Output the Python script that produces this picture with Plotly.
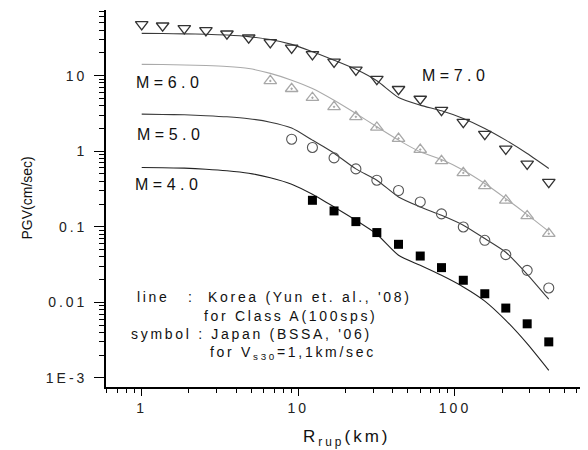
import plotly.graph_objects as go

# Distances (km)
dist = [1.0, 1.36, 1.87, 2.57, 3.50, 4.82, 6.62, 9.06, 12.3, 16.9, 23.3, 31.7,
        43.6, 60.0, 82.0, 113, 155, 211, 289, 397]

# Korea (Yun et al., '08) model lines
korea_m7 = [36.2, 36.0, 35.7, 35.3, 34.4, 32.8, 30.0, 25.9, 20.7, 16.0, 12.1, 8.53,
            5.14, 4.07, 3.42, 2.71, 2.0, 1.40, 0.93, 0.59]
korea_m6 = [14.1, 14.0, 13.8, 13.6, 13.2, 12.4, 10.7, 8.7, 6.76, 4.73, 3.16, 2.10,
            1.40, 0.98, 0.776, 0.56, 0.373, 0.236, 0.145, 0.087]
korea_m5 = [3.09, 3.06, 3.03, 2.95, 2.85, 2.69, 2.42, 2.02, 1.40, 0.94, 0.583, 0.413,
            0.248, 0.183, 0.142, 0.105, 0.0698, 0.046, 0.0235, 0.011]
korea_m4 = [0.608, 0.604, 0.596, 0.578, 0.552, 0.511, 0.446, 0.366, 0.269, 0.183, 0.122,
            0.0796, 0.042, 0.0309, 0.0228, 0.016, 0.0104, 0.00578, 0.00284, 0.00126]

# Japan (BSSA, '06) symbols
dist_m7 = dist
japan_m7 = [47.7, 45.7, 42.2, 39.7, 35.8, 31.7, 27.5, 23.3, 19.1, 15.2, 11.9, 9.0,
            6.6, 4.9, 3.49, 2.42, 1.68, 1.07, 0.68, 0.39]
dist_m6 = dist[6:]
japan_m6 = [8.5, 6.7, 5.1, 3.86, 2.85, 2.06, 1.47, 1.05, 0.745, 0.516, 0.347, 0.224,
            0.139, 0.081]
dist_m5 = dist[7:]
japan_m5 = [1.44, 1.12, 0.815, 0.583, 0.413, 0.302, 0.213, 0.148, 0.0994, 0.0662,
            0.0428, 0.0265, 0.0155]
dist_m4 = dist[8:]
japan_m4 = [0.224, 0.162, 0.117, 0.0838, 0.0586, 0.041, 0.0288, 0.0196, 0.013,
            0.0084, 0.0052, 0.0030]

x_tickvals = [1, 10, 100]
x_ticktext = ["1", "10", "100"]
y_tickvals = [0.001, 0.01, 0.1, 1, 10]
y_ticktext = ["1E-3", "0.01", "0.1", "1", "10"]

FONT = "Liberation Sans, Arial, sans-serif"


def ls(t, px):
    return f'<span style="letter-spacing:{px}px">{t}</span>'


fig = go.Figure()
line_specs = [(korea_m7, "#3a3a3a"), (korea_m6, "#aaaaaa"),
              (korea_m5, "#3a3a3a"), (korea_m4, "#222222")]
for ys, col in line_specs:
    fig.add_trace(go.Scatter(x=dist, y=ys, mode="lines",
                             line=dict(color=col, width=1.1, shape="spline", smoothing=0.6),
                             showlegend=False, hoverinfo="skip"))

fig.add_trace(go.Scatter(x=dist_m7, y=japan_m7, mode="markers",
                         marker=dict(symbol="triangle-down-open", size=11,
                                     color="#333333", line=dict(width=1.3, color="#333333")),
                         showlegend=False))
fig.add_trace(go.Scatter(x=dist_m6, y=japan_m6, mode="markers",
                         marker=dict(symbol="triangle-up-open-dot", size=11,
                                     color="#a8a8a8", line=dict(width=1.3, color="#a8a8a8")),
                         showlegend=False))
fig.add_trace(go.Scatter(x=dist_m5, y=japan_m5, mode="markers",
                         marker=dict(symbol="circle-open", size=10,
                                     color="#555555", line=dict(width=1.1, color="#555555")),
                         showlegend=False))
fig.add_trace(go.Scatter(x=dist_m4, y=japan_m4, mode="markers",
                         marker=dict(symbol="square", size=9, color="#000000",
                                     line=dict(width=0)),
                         showlegend=False))

minor_x = [m * 10 ** e for e in range(-1, 3) for m in range(2, 10)]
minor_y = [m * 10 ** e for e in range(-3, 2) for m in range(2, 10)]

fig.update_xaxes(type="log", range=[-0.228, 2.83], showline=True, linecolor="black",
                 linewidth=1.6, showgrid=False, zeroline=False, ticks="outside",
                 automargin=False,
                 ticklen=7, tickwidth=1.4, tickcolor="black",
                 tickmode="array", tickvals=x_tickvals,
                 ticktext=[ls(t, 3) for t in x_ticktext],
                 tickfont=dict(family=FONT, size=14, color="#222"),
                 minor=dict(tickmode="array", tickvals=minor_x, ticks="outside",
                            ticklen=4, tickwidth=1.2, tickcolor="black"))
fig.update_yaxes(type="log", range=[-3.12, 1.868], showline=True, linecolor="black",
                 linewidth=1.6, showgrid=False, zeroline=False, ticks="outside",
                 automargin=False, ticklabelstandoff=4,
                 ticklen=10, tickwidth=1.4, tickcolor="black",
                 tickmode="array", tickvals=y_tickvals,
                 ticktext=[ls(t, 3) for t in y_ticktext],
                 tickfont=dict(family=FONT, size=14, color="#222"),
                 minor=dict(tickmode="array", tickvals=minor_y, ticks="outside",
                            ticklen=5, tickwidth=1.2, tickcolor="black"))

ann = []


def add(text, x, y, size, xanchor="left", yanchor="middle", angle=0):
    ann.append(dict(text=text, x=x, y=y, xref="paper", yref="paper", showarrow=False,
                    xanchor=xanchor, yanchor=yanchor, textangle=angle,
                    font=dict(family=FONT, size=size, color="#111")))


add(ls("M=7.0", 4.5), 0.6555, 0.826, 16)
add(ls("M=6.0", 4.5), 0.059, 0.807, 16)
add(ls("M=5.0", 4.5), 0.0605, 0.671, 16)
add(ls("M=4.0", 4.5), 0.0564, 0.536, 16)

add(ls("line", 2.7), 0.0605, 0.2395, 14)
add(":", 0.1754, 0.2395, 14, xanchor="center")
add(ls("Korea (Yun et. al., '08)", 2.7), 0.2088, 0.2395, 14)
add(ls("for Class A(100sps)", 2.7), 0.2004, 0.1883, 14)
add(ls("symbol : Japan (BSSA, '06)", 2.7), 0.0486, 0.1398, 14)
add(ls("for V<sub>s30</sub>=1,1km/sec", 2.7), 0.213, 0.091, 14)

add("PGV(cm/sec)", -0.167, 0.5, 14, xanchor="center", angle=-90)
add(ls("R<sub>rup</sub>(km)", 3), 0.502, -0.135, 17, xanchor="center")

# The page body has an 8px margin, so the margins are shifted to compensate.
fig.update_layout(width=588, height=450, margin=dict(l=98, r=11, t=2, b=71),
                  paper_bgcolor="white", plot_bgcolor="white", annotations=ann,
                  font=dict(family=FONT))

fig.write_html("out.html")
